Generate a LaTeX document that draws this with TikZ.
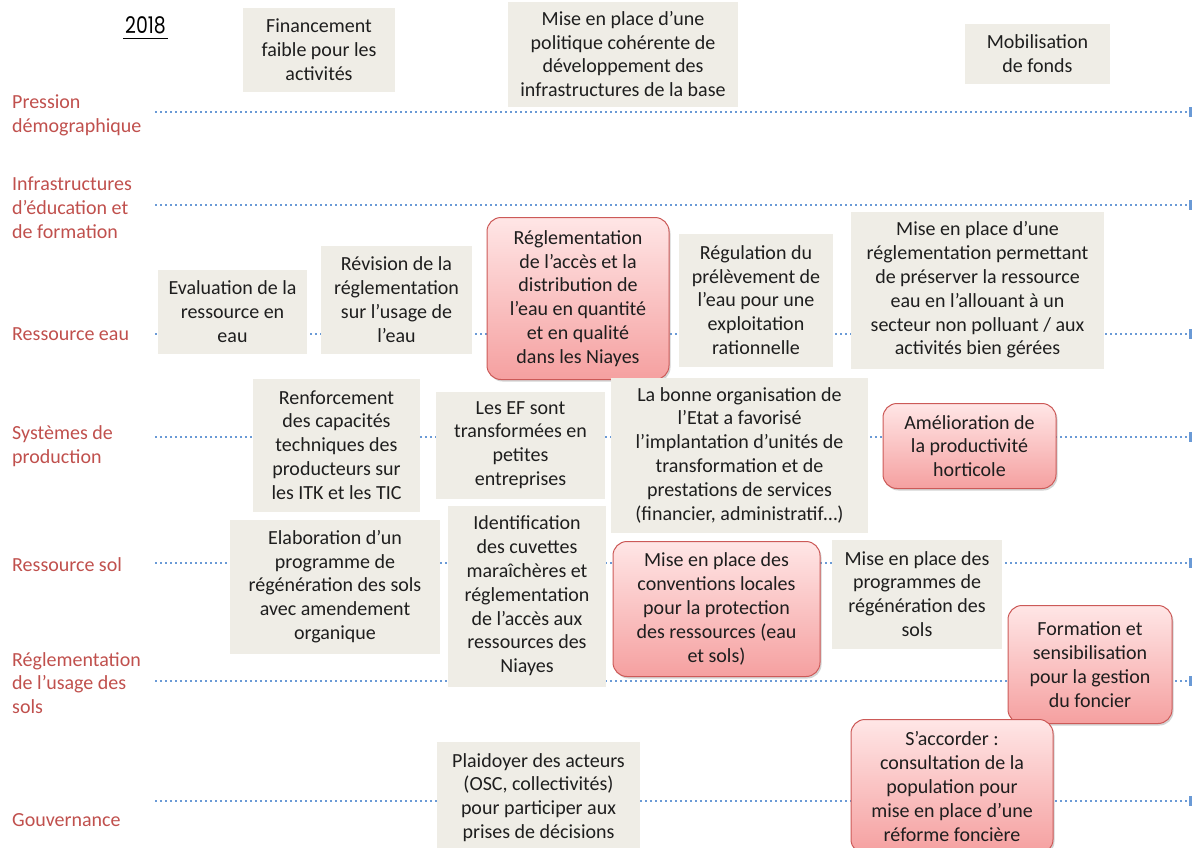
\documentclass[tikz,border=0pt]{standalone}
\usepackage{fontspec}
\setmainfont{Carlito}
\newfontfamily\yearfont{Poppins}
\usetikzlibrary{shadows}
\definecolor{gfill}{HTML}{EFEDE6}
\definecolor{lblred}{HTML}{C0504D}
\definecolor{dotblue}{HTML}{6A9AD6}
\definecolor{rtop}{HTML}{FFE6E6}
\definecolor{rbot}{HTML}{F5A0A0}
\definecolor{rline}{HTML}{CC5A58}
\definecolor{txt}{HTML}{1E1E1E}
\tikzset{
  base/.style={inner sep=0pt, align=center, text=txt, font=\fontsize{20}{23.8}\selectfont},
  gbox/.style={base, fill=gfill},
  rbox/.style={base, rounded corners=14pt, top color=rtop, bottom color=rbot, draw=rline, line width=1pt,
               drop shadow={shadow xshift=1.5pt, shadow yshift=-2pt, opacity=0.35}},
  lbl/.style={anchor=west, align=left, inner sep=0pt, text=lblred, font=\fontsize{20}{23.8}\selectfont},
  axis/.style={dotblue, line width=1.6pt, dash pattern=on 1.6pt off 3.4pt},
}
\newcommand\bx[7]{\node[#6, minimum width={(#4-#2)*1pt}, minimum height={(#5-#3)*1pt}] (#1) at ({(#2+#4)/2},{(#3+#5)/2+1.5}) {#7};}
\begin{document}
\begin{tikzpicture}[x=1pt,y=-1pt]
\useasboundingbox (0,0) rectangle (1192,847);
% axis lines
\foreach \n/\y in {a/112,b/205,c/334,d/437,e/563,f/681,g/801}{
  \coordinate (\n s) at (155,\y);
  \coordinate (\n e) at (1187,\y);
  \draw[axis] (\n s) -- (\n e);
  \fill[dotblue] (1189,\y-5) rectangle (1192,\y+5);
}
% year
\node[inner sep=0pt, anchor=base, xscale=0.82, transform shape, font=\yearfont\fontsize{23}{24}\selectfont] (year) at (145.5,33.5) {2018};
\draw[line width=1.8pt] (123,38.5) -- (168,38.5);
% labels
\node[lbl] (l1) at (12,115) {Pression\\démographique};
\node[lbl] (l2) at (12,208) {Infrastructures\\d’éducation et\\de formation};
\node[lbl] (l3) at (12,334) {Ressource eau};
\node[lbl] (l4) at (12,446) {Systèmes de\\production};
\node[lbl] (l5) at (12,565) {Ressource sol};
\node[lbl] (l6) at (12,683) {Réglementation\\de l’usage des\\sols};
\node[lbl] (l7) at (12,820) {Gouvernance};
% boxes
\bx{b1}{243}{6}{395}{90}{gbox}{Financement\\faible pour les\\activités}
\bx{b2}{508}{0}{738}{105}{gbox}{Mise en place d’une\\politique cohérente de\\développement des\\infrastructures de la base}
\bx{b3}{965}{22}{1110}{82}{gbox}{Mobilisation\\de fonds}
\bx{b4}{158}{268}{307}{352}{gbox}{Evaluation de la\\ressource en\\eau}
\bx{b5}{321}{244}{472}{352}{gbox}{Révision de la\\réglementation\\sur l’usage de\\l’eau}
\bx{b6}{487}{216}{669}{378}{rbox}{Réglementation\\de l’accès et la\\distribution de\\l’eau en quantité\\et en qualité\\dans les Niayes}
\bx{b7}{679}{232}{833}{365}{gbox}{Régulation du\\prélèvement de\\l’eau pour une\\exploitation\\rationnelle}
\bx{b8}{851}{210}{1104}{367}{gbox}{Mise en place d’une\\réglementation permettant\\de préserver la ressource\\eau en l’allouant à un\\secteur non polluant / aux\\activités bien gérées}
\bx{b9}{253}{377}{420}{510}{gbox}{Renforcement\\des capacités\\techniques des\\producteurs sur\\les ITK et les TIC}
\bx{b10}{436}{390}{605}{497}{gbox}{Les EF sont\\transformées en\\petites\\entreprises}
\bx{b11}{611}{376}{868}{531}{gbox}{La bonne organisation de\\l’Etat a favorisé\\l’implantation d’unités de\\transformation et de\\prestations de services\\(financier, administratif…)}
\bx{b12}{883}{402}{1056}{487}{rbox}{Amélioration de\\la productivité\\horticole}
\bx{b13}{230}{518}{440}{652}{gbox}{Elaboration d’un\\programme de\\régénération des sols\\avec amendement\\organique}
\bx{b14}{448}{504}{606}{685}{gbox}{Identification\\des cuvettes\\maraîchères et\\réglementation\\de l’accès aux\\ressources des\\Niayes}
\bx{b15}{613}{540}{820}{675}{rbox}{Mise en place des\\conventions locales\\pour la protection\\des ressources (eau\\et sols)}
\bx{b16}{832}{538}{1002}{647}{gbox}{Mise en place des\\programmes de\\régénération des\\sols}
\bx{b17}{1008}{604}{1172}{722}{rbox}{Formation et\\sensibilisation\\pour la gestion\\du foncier}
\bx{b18}{437}{740}{640}{852}{gbox}{Plaidoyer des acteurs\\(OSC, collectivités)\\pour participer aux\\prises de décisions}
\bx{b19}{851}{718}{1053}{852}{rbox}{S’accorder :\\consultation de la\\population pour\\mise en place d’une\\réforme foncière}
\end{tikzpicture}
\end{document}
